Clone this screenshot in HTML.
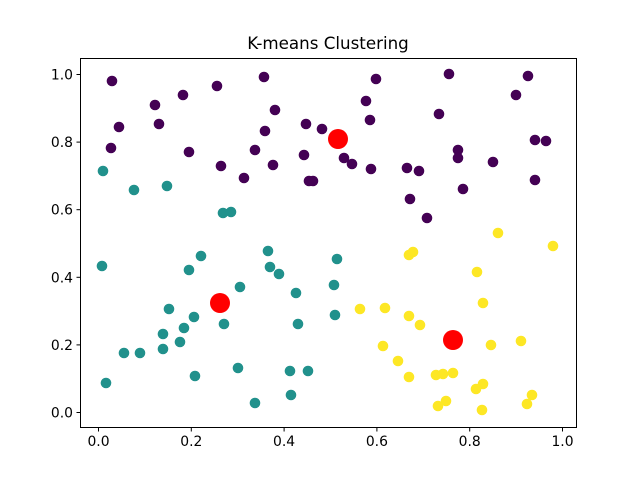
<!DOCTYPE html>
<html><head><meta charset="utf-8"><style>html,body{margin:0;padding:0;background:#fff}svg{display:block}text{font-family:"DejaVu Sans","Liberation Sans",sans-serif;fill:#000}</style></head><body>
<svg width="640" height="480" viewBox="0 0 640 480">
<text x="328" y="49" font-size="16.7" text-anchor="middle">K-means Clustering</text>
<g fill="#440154">
<circle cx="112" cy="81" r="5.3"/><circle cx="264" cy="77" r="5.3"/><circle cx="217" cy="86" r="5.3"/><circle cx="183" cy="95" r="5.3"/><circle cx="155" cy="105" r="5.3"/><circle cx="275" cy="110" r="5.3"/><circle cx="119" cy="127" r="5.3"/><circle cx="159" cy="124" r="5.3"/><circle cx="265" cy="131" r="5.3"/><circle cx="306" cy="124" r="5.3"/><circle cx="322" cy="129" r="5.3"/><circle cx="111" cy="148" r="5.3"/><circle cx="189" cy="152" r="5.3"/><circle cx="255" cy="150" r="5.3"/><circle cx="304" cy="155" r="5.3"/><circle cx="273" cy="165" r="5.3"/><circle cx="221" cy="166" r="5.3"/><circle cx="244" cy="178" r="5.3"/><circle cx="309" cy="181" r="5.3"/><circle cx="313" cy="181" r="5.3"/>
<circle cx="376" cy="79" r="5.3"/><circle cx="449" cy="74" r="5.3"/><circle cx="528" cy="76" r="5.3"/><circle cx="366" cy="101" r="5.3"/><circle cx="516" cy="95" r="5.3"/><circle cx="370" cy="120" r="5.3"/><circle cx="439" cy="114" r="5.3"/><circle cx="535" cy="140" r="5.3"/><circle cx="546" cy="141" r="5.3"/><circle cx="344" cy="158" r="5.3"/><circle cx="352" cy="164" r="5.3"/><circle cx="371" cy="169" r="5.3"/><circle cx="458" cy="150" r="5.3"/><circle cx="458" cy="158" r="5.3"/><circle cx="493" cy="162" r="5.3"/><circle cx="407" cy="168" r="5.3"/><circle cx="419" cy="171" r="5.3"/><circle cx="535" cy="180" r="5.3"/><circle cx="463" cy="189" r="5.3"/><circle cx="410" cy="199" r="5.3"/><circle cx="427" cy="218" r="5.3"/>
</g>
<g fill="#21918c">
<circle cx="103" cy="171" r="5.3"/><circle cx="134" cy="190" r="5.3"/><circle cx="167" cy="186" r="5.3"/><circle cx="223" cy="213" r="5.3"/><circle cx="231" cy="212" r="5.3"/><circle cx="268" cy="251" r="5.3"/><circle cx="102" cy="266" r="5.3"/><circle cx="201" cy="256" r="5.3"/><circle cx="189" cy="270" r="5.3"/><circle cx="270" cy="267" r="5.3"/><circle cx="279" cy="274" r="5.3"/><circle cx="240" cy="287" r="5.3"/><circle cx="296" cy="293" r="5.3"/><circle cx="169" cy="309" r="5.3"/><circle cx="194" cy="317" r="5.3"/><circle cx="224" cy="324" r="5.3"/><circle cx="298" cy="324" r="5.3"/><circle cx="184" cy="328" r="5.3"/><circle cx="163" cy="334" r="5.3"/><circle cx="180" cy="342" r="5.3"/><circle cx="163" cy="349" r="5.3"/><circle cx="124" cy="353" r="5.3"/><circle cx="140" cy="353" r="5.3"/><circle cx="238" cy="368" r="5.3"/><circle cx="195" cy="376" r="5.3"/><circle cx="290" cy="371" r="5.3"/><circle cx="308" cy="371" r="5.3"/><circle cx="106" cy="383" r="5.3"/><circle cx="291" cy="395" r="5.3"/><circle cx="255" cy="403" r="5.3"/><circle cx="337" cy="259" r="5.3"/><circle cx="334" cy="285" r="5.3"/><circle cx="335" cy="315" r="5.3"/>
</g>
<g fill="#fde725">
<circle cx="498" cy="233" r="5.3"/><circle cx="553" cy="246" r="5.3"/><circle cx="409" cy="255" r="5.3"/><circle cx="413" cy="252" r="5.3"/><circle cx="477" cy="272" r="5.3"/><circle cx="483" cy="303" r="5.3"/><circle cx="360" cy="309" r="5.3"/><circle cx="385" cy="308" r="5.3"/><circle cx="409" cy="316" r="5.3"/><circle cx="420" cy="325" r="5.3"/><circle cx="383" cy="346" r="5.3"/><circle cx="491" cy="345" r="5.3"/><circle cx="521" cy="341" r="5.3"/><circle cx="398" cy="361" r="5.3"/><circle cx="409" cy="377" r="5.3"/><circle cx="436" cy="375" r="5.3"/><circle cx="443" cy="374" r="5.3"/><circle cx="453" cy="373" r="5.3"/><circle cx="483" cy="384" r="5.3"/><circle cx="476" cy="389" r="5.3"/><circle cx="532" cy="395" r="5.3"/><circle cx="527" cy="404" r="5.3"/><circle cx="446" cy="401" r="5.3"/><circle cx="438" cy="406" r="5.3"/><circle cx="482" cy="410" r="5.3"/>
</g>
<g fill="#ff0000">
<circle cx="338" cy="139" r="10"/><circle cx="220" cy="303" r="10"/><circle cx="453" cy="340" r="10"/>
</g>
<rect x="80.5" y="58.5" width="496" height="369" fill="none" stroke="#000" stroke-width="1"/>
<g stroke="#000" stroke-width="1">
<line x1="98.5" y1="428" x2="98.5" y2="431.5"/><line x1="191.3" y1="428" x2="191.3" y2="431.5"/><line x1="284.1" y1="428" x2="284.1" y2="431.5"/><line x1="376.9" y1="428" x2="376.9" y2="431.5"/><line x1="469.7" y1="428" x2="469.7" y2="431.5"/><line x1="562.5" y1="428" x2="562.5" y2="431.5"/>
<line x1="76.5" y1="412.5" x2="80" y2="412.5"/><line x1="76.5" y1="344.9" x2="80" y2="344.9"/><line x1="76.5" y1="277.3" x2="80" y2="277.3"/><line x1="76.5" y1="209.7" x2="80" y2="209.7"/><line x1="76.5" y1="142.1" x2="80" y2="142.1"/><line x1="76.5" y1="74.5" x2="80" y2="74.5"/>
</g>
<g font-size="13.9" text-anchor="middle">
<text x="98.5" y="446">0.0</text><text x="191.3" y="446">0.2</text><text x="284.1" y="446">0.4</text><text x="376.9" y="446">0.6</text><text x="469.7" y="446">0.8</text><text x="562.5" y="446">1.0</text>
</g>
<g font-size="13.9" text-anchor="end">
<text x="73" y="417.5">0.0</text><text x="73" y="349.9">0.2</text><text x="73" y="282.3">0.4</text><text x="73" y="214.7">0.6</text><text x="73" y="147.1">0.8</text><text x="73" y="79.5">1.0</text>
</g>
</svg>
</body></html>
